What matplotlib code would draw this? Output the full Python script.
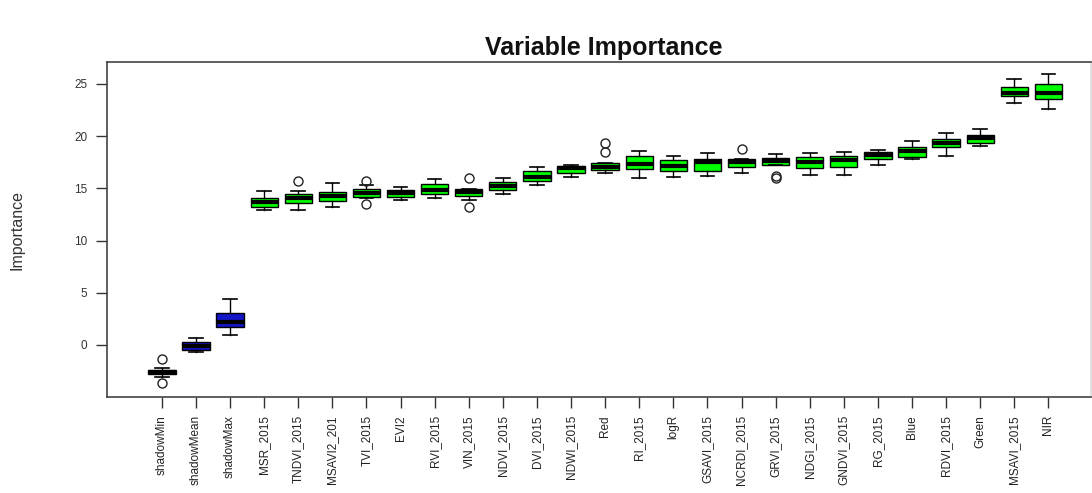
import matplotlib
matplotlib.use("Agg")
import matplotlib.pyplot as plt

plt.rcParams['font.family'] = ['Liberation Sans', 'DejaVu Sans']

# attribute names, ordered by median importance
names = ["shadowMin", "shadowMean", "shadowMax", "MSR_2015", "TNDVI_2015", "MSAVI2_201",
         "TVI_2015", "EVI2", "RVI_2015", "VIN_2015", "NDVI_2015", "DVI_2015", "NDWI_2015",
         "Red", "RI_2015", "logR", "GSAVI_2015", "NCRDI_2015", "GRVI_2015", "NDGI_2015",
         "GNDVI_2015", "RG_2015", "Blue", "RDVI_2015", "Green", "MSAVI_2015", "NIR"]

# box statistics
medians = [-2.63, -0.06, 2.23, 13.67, 14.05, 14.27, 14.53, 14.59, 14.85, 14.69, 15.23, 16.13,
           16.99, 17.02, 17.30, 17.15, 17.50, 17.56, 17.62, 17.56, 17.72, 18.20, 18.61, 19.32,
           19.80, 24.17, 24.17]
q1 = [-2.80, -0.48, 1.75, 13.25, 13.63, 13.79, 14.20, 14.20, 14.46, 14.30, 14.85, 15.74,
      16.45, 16.76, 16.89, 16.67, 16.67, 17.08, 17.21, 16.92, 17.08, 17.82, 18.04, 18.94,
      19.32, 23.85, 23.56]
q3 = [-2.40, 0.32, 3.04, 14.11, 14.46, 14.65, 14.91, 14.85, 15.42, 14.91, 15.61, 16.67,
      17.15, 17.40, 18.10, 17.70, 17.84, 17.84, 17.88, 17.97, 18.13, 18.49, 19.00, 19.70,
      20.11, 24.68, 25.00]
whis_lo = [-3.03, -0.64, 0.96, 12.93, 12.93, 13.25, 14.11, 13.89, 14.05, 13.89, 14.46, 15.33,
           16.13, 16.45, 15.97, 16.06, 16.19, 16.45, 17.21, 16.28, 16.28, 17.21, 17.82, 18.13,
           19.06, 23.15, 22.58]
whis_hi = [-2.23, 0.64, 4.41, 14.75, 14.75, 15.49, 15.33, 15.17, 15.87, 14.95, 15.97, 17.02,
           17.21, 17.40, 18.61, 18.10, 18.36, 17.84, 18.26, 18.36, 18.49, 18.68, 19.57, 20.34,
           20.72, 25.45, 25.96]
outliers = {
    "shadowMin": [-1.34, -3.67],
    "TNDVI_2015": [15.74],
    "TVI_2015": [15.75, 13.50],
    "VIN_2015": [15.97, 13.25],
    "Red": [19.32, 18.52],
    "NCRDI_2015": [18.74],
    "GRVI_2015": [16.19, 16.02],
}
shadow = {"shadowMin", "shadowMean", "shadowMax"}

stats = []
for i, n in enumerate(names):
    stats.append(dict(med=medians[i], q1=q1[i], q3=q3[i], whislo=whis_lo[i],
                      whishi=whis_hi[i], fliers=outliers.get(n, []), label=n))

fig = plt.figure(figsize=(10.92, 4.93), dpi=100)
ax = fig.add_axes([107 / 1092, 96 / 493, 984 / 1092, 335 / 493])

pos = list(range(1, len(names) + 1))
bp = ax.bxp(stats, positions=pos, widths=0.8, capwidths=0.4, patch_artist=True,
            boxprops=dict(edgecolor='black', linewidth=1.0),
            medianprops=dict(color='black', linewidth=3.0),
            whiskerprops=dict(color='black', linewidth=1.0),
            capprops=dict(color='black', linewidth=1.2),
            flierprops=dict(marker='o', markerfacecolor='none', markeredgecolor='#222222',
                            markersize=6.5, markeredgewidth=1.0))
for b, n in zip(bp['boxes'], names):
    b.set_facecolor('#1414c8' if n in shadow else '#00ff00')

ax.set_xlim(-0.61, 28.25)
ax.set_ylim(-4.98, 27.1)
ax.set_xticks(pos)
ax.set_xticklabels(names, rotation=90, fontsize=8.5, color='#222222')
ax.set_yticks([0, 5, 10, 15, 20, 25])
ax.tick_params(axis='both', direction='out', length=8, width=1, color='#333333')
ax.tick_params(axis='y', labelsize=8.5, labelcolor='#333333', pad=6)
ax.tick_params(axis='x', pad=5)
for s in ax.spines.values():
    s.set_color('#444444')
    s.set_linewidth(1.2)
ax.spines['right'].set_color('#dddddd')

ax.set_ylabel("Importance", fontsize=11.5, color='#333333', labelpad=36)
fig.text(0.553, 0.902, "Variable Importance", ha='center', va='center',
         fontsize=18, fontweight='bold', color='#111111')

fig.savefig("out.png", dpi=100)
